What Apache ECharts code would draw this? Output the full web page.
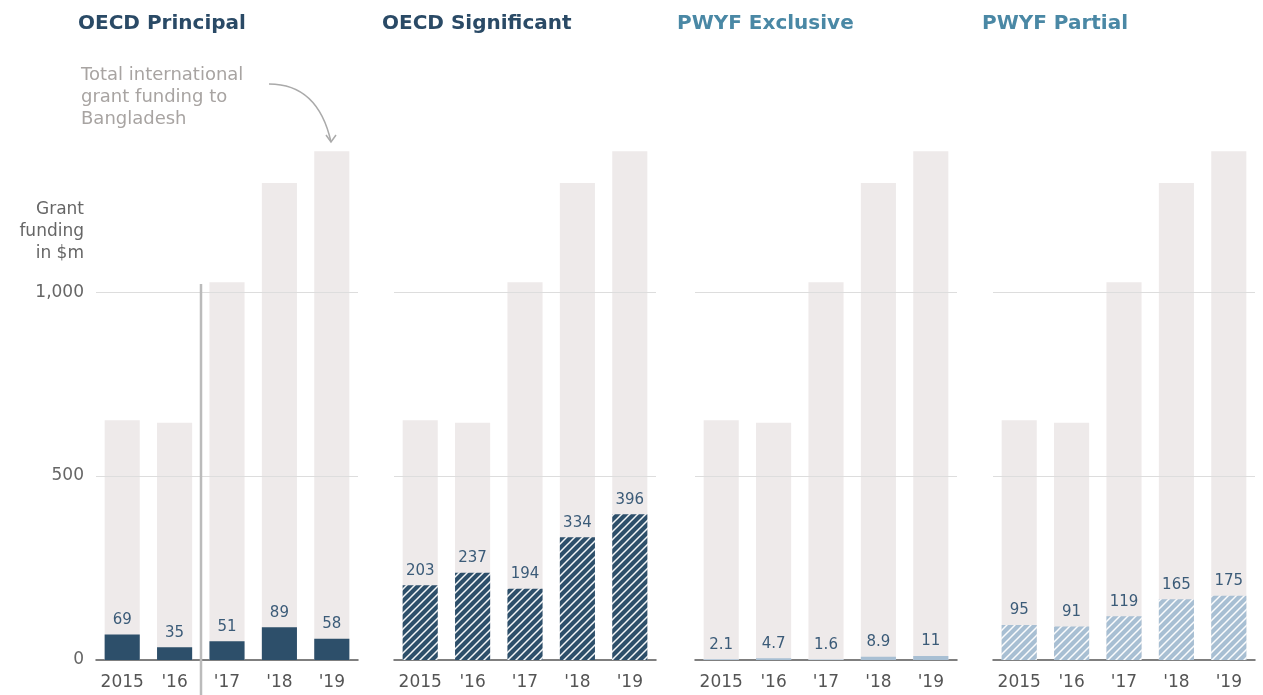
<!DOCTYPE html>
<html>
<head>
<meta charset="utf-8">
<style>
  html, body { margin: 0; padding: 0; background: #fff; }
  #main { width: 1263px; height: 695px; }
</style>
<script src="https://cdn.jsdelivr.net/npm/echarts@6/dist/echarts.min.js"></script>
</head>
<body>
<div id="main"></div>
<script>
"use strict";
var years = ["2015", "'16", "'17", "'18", "'19"];
var totalFunding = [652, 645, 1027, 1297, 1383];
var oecdPrincipal = [69, 35, 51, 89, 58];
var oecdSignificant = [203, 237, 194, 334, 396];
var pwyfExclusive = [2.1, 4.7, 1.6, 8.9, 11];
var pwyfPartial = [95, 91, 119, 165, 175];
var panelTitles = ["OECD Principal", "OECD Significant", "PWYF Exclusive", "PWYF Partial"];
var yTicks = [0, 500, 1000];

var FONT = "DejaVu Sans";
var chartDom = document.getElementById('main');
var myChart = echarts.init(chartDom);

// hatch pattern: white diagonal stripes on a base colour
function hatch(base) {
    var c = document.createElement('canvas');
    c.width = 8; c.height = 8;
    var ctx = c.getContext('2d');
    ctx.fillStyle = base;
    ctx.fillRect(0, 0, 8, 8);
    ctx.strokeStyle = 'rgba(255,255,255,0.95)';
    ctx.lineWidth = 1.5;
    ctx.beginPath();
    ctx.moveTo(-2, 10); ctx.lineTo(10, -2);
    ctx.moveTo(-2, 2); ctx.lineTo(2, -2);
    ctx.moveTo(6, 10); ctx.lineTo(10, 6);
    ctx.stroke();
    return { image: c, repeat: 'repeat' };
}

var panels = [
    { data: oecdPrincipal, color: '#2d4f6a', titleColor: '#2a4a66' },
    { data: oecdSignificant, color: hatch('#2d4f6a'), titleColor: '#2a4a66' },
    { data: pwyfExclusive, color: '#a8bfd3', titleColor: '#4a88a5' },
    { data: pwyfPartial, color: hatch('#a8bfd3'), titleColor: '#4a88a5' }
];
var lefts = [96, 394, 695, 993];
var gridW = 262;

var grids = [], xAxes = [], yAxes = [], series = [], titles = [];
panels.forEach(function (p, i) {
    grids.push({ left: lefts[i], width: gridW, top: 145, bottom: 35 });
    titles.push({
        text: panelTitles[i], left: [78, 382, 677, 982][i], top: 14, padding: 0,
        textStyle: { fontFamily: FONT, fontSize: 20, fontWeight: 'bold', color: p.titleColor }
    });
    xAxes.push({
        type: 'category', gridIndex: i, data: years,
        axisLine: { lineStyle: { color: '#555', width: 1.5 } },
        axisTick: { show: false },
        axisLabel: { interval: 0, fontFamily: FONT, fontSize: 17, color: '#555', margin: 14 }
    });
    yAxes.push({
        type: 'value', gridIndex: i, min: 0, max: 1400, interval: 500,
        splitLine: { show: false },
        axisLine: { show: false }, axisTick: { show: false },
        axisLabel: {
            show: i === 0, fontFamily: FONT, fontSize: 17, color: '#666', margin: 12,
            formatter: function (v) { return yTicks.indexOf(v) >= 0 ? v.toLocaleString('en-US') : ''; }
        }
    });
    series.push({
        type: 'bar', xAxisIndex: i, yAxisIndex: i, data: totalFunding,
        barWidth: '67%', barGap: '-100%', silent: true,
        itemStyle: { color: '#eeeaea' },
        markLine: {
            silent: true, symbol: 'none', label: { show: false },
            lineStyle: { color: '#dddddd', type: 'solid', width: 1 },
            data: [{ yAxis: 500 }, { yAxis: 1000 }]
        },
        z: 1
    });
    series.push({
        type: 'bar', xAxisIndex: i, yAxisIndex: i, data: p.data,
        barWidth: '67%', silent: true,
        itemStyle: { color: p.color },
        label: {
            show: true, position: 'top', distance: 7,
            fontFamily: FONT, fontSize: 15, color: '#3b5b78'
        },
        z: 3
    });
});

var option = {
    animation: false,
    backgroundColor: '#fff',
    title: titles,
    grid: grids,
    xAxis: xAxes,
    yAxis: yAxes,
    series: series,
    graphic: [
        {
            type: 'text', right: 1263 - 84, top: 199,
            style: {
                text: 'Grant\nfunding\nin $m', textAlign: 'right', lineHeight: 22,
                fontFamily: FONT, fontSize: 17, fill: '#666'
            }
        },
        {
            type: 'text', left: 81, top: 64,
            style: {
                text: 'Total international\ngrant funding to\nBangladesh', lineHeight: 22,
                fontFamily: FONT, fontSize: 18, fill: '#a8a4a2'
            }
        },
        {
            type: 'bezierCurve',
            shape: { x1: 269, y1: 84, cpx1: 318, cpy1: 84, x2: 331, y2: 142 },
            style: { stroke: '#aaa', lineWidth: 1.5, fill: null }
        },
        {
            type: 'polyline',
            shape: { points: [[326, 135], [331, 142], [336, 135]] },
            style: { stroke: '#aaa', lineWidth: 1.5, fill: null }
        },
        {
            type: 'line',
            shape: { x1: 201, y1: 284, x2: 201, y2: 695 },
            style: { stroke: '#bbbbbb', lineWidth: 2.5 },
            z: 10
        }
    ]
};
myChart.setOption(option);
</script>
</body>
</html>
